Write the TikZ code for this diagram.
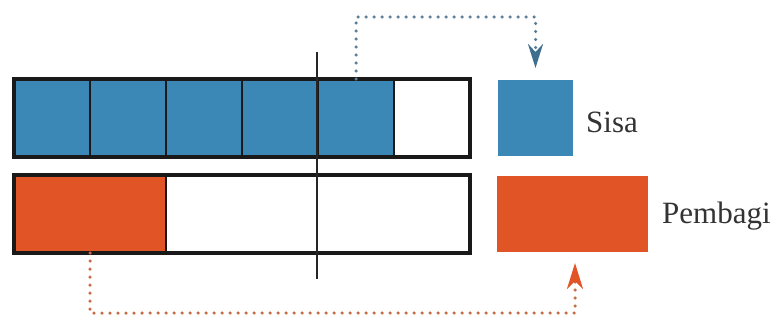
\documentclass[tikz,border=0pt]{standalone}
\usepackage{fontspec}
\setmainfont{Liberation Serif}
\usetikzlibrary{arrows.meta}
\definecolor{cblue}{HTML}{3B88B7}
\definecolor{corange}{HTML}{E05426}
\definecolor{dotblue}{HTML}{5A7F99}
\definecolor{tipblue}{HTML}{3F6F8E}
\definecolor{dotorange}{HTML}{C86A42}
\definecolor{txt}{HTML}{333333}
\begin{document}
\begin{tikzpicture}[x=1pt,y=-1pt,
  cell/.style={draw=black!90, line width=1.5pt, inner sep=0pt, outer sep=0pt,
    minimum width=76pt, minimum height=78pt, anchor=north west},
  framebox/.style={draw=black!90, line width=4pt, inner sep=0pt, outer sep=0pt,
    minimum width=456pt, minimum height=78pt, anchor=north west},
  legendbox/.style={inner sep=0pt, outer sep=0pt, minimum height=76pt, anchor=north west},
  label/.style={anchor=west, text=txt, inner sep=0pt, font=\fontsize{31}{36}\selectfont},
  dotline/.style={line width=3.5pt, dash pattern=on 0pt off 8pt, line cap=round},
  bluearrow/.style={dotline, draw=dotblue, shorten >=12pt,
    -{Stealth[length=24pt,width=15pt,inset=8pt,color=tipblue]}},
  orangearrow/.style={dotline, draw=dotorange, shorten >=11pt,
    -{Stealth[length=26pt,width=16pt,inset=8pt,color=corange]}}
]
\useasboundingbox (0,0) rectangle (778,323);
% top bar
\node[cell, fill=cblue] (c1) at (14,79) {};
\node[cell, fill=cblue] (c2) at (90,79) {};
\node[cell, fill=cblue] (c3) at (166,79) {};
\node[cell, fill=cblue] (c4) at (242,79) {};
\node[cell, fill=cblue] (c5) at (318,79) {};
\node[cell, fill=white] (c6) at (394,79) {};
\node[framebox] (topframe) at (14,79) {};
% bottom bar
\node[cell, fill=corange, minimum width=152pt] (d1) at (14,175) {};
\node[cell, fill=white, minimum width=304pt] (d2) at (166,175) {};
\node[framebox] (botframe) at (14,175) {};
% vertical line
\coordinate (vt) at (317,52);
\coordinate (vb) at (317,279);
\draw[line width=2pt, black!85] (vt) -- (vb);
% legend
\node[legendbox, fill=cblue, minimum width=75pt] (sisa) at (498,80) {};
\node[label] (sisatext) at (586,122) {Sisa};
\node[legendbox, fill=corange, minimum width=151pt] (pemb) at (497,176) {};
\node[label] (pembtext) at (662,216) {Pembagi};
% arrows
\coordinate (ptop) at (0,17);
\coordinate (pbot) at (0,313);
\coordinate (pembin) at (575,252);
\draw[bluearrow] (c5.north) -- (c5.north |- ptop) -| (sisa.north);
\draw[orangearrow] (d1.south) -- (d1.south |- pbot) -| (pembin);
\end{tikzpicture}
\end{document}
